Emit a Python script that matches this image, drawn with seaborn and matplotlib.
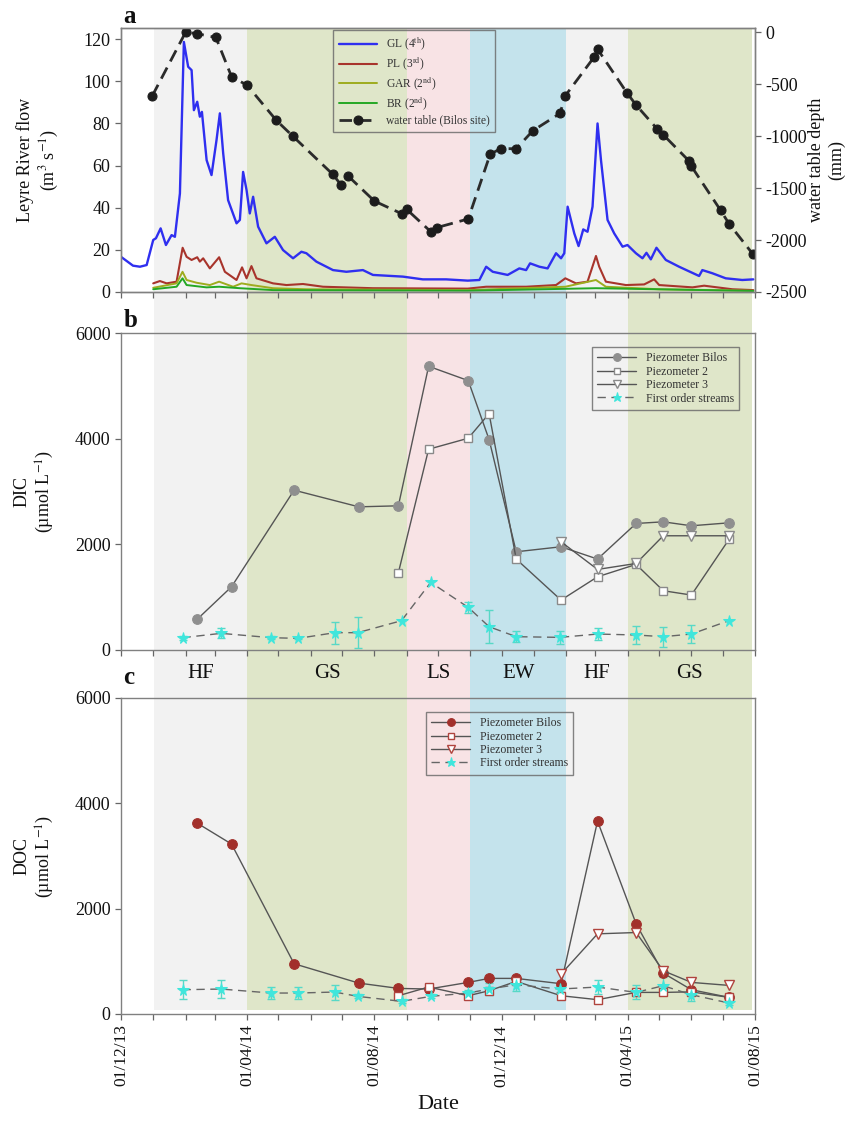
import numpy as np
import pandas as pd
import matplotlib
matplotlib.use("Agg")
import matplotlib.pyplot as plt
import matplotlib.dates as mdates
from matplotlib.transforms import blended_transform_factory
import seaborn as sns

# ---------------- DATA ----------------
START = "2013-12-01"
X_START, X_END = "2013-12-01", "2015-08-01"

# Seasons (background bands)
season_names = ["HF", "GS", "LS", "EW", "HF", "GS"]
season_start = ["2014-01-02", "2014-04-01", "2014-09-01", "2014-11-01", "2015-02-01", "2015-04-01"]
season_end = ["2014-04-01", "2014-09-01", "2014-11-01", "2015-02-01", "2015-04-01", "2015-07-29"]
season_colors = ["#f2f2f2", "#dfe6c9", "#f8e3e5", "#c4e3ec", "#f2f2f2", "#dfe6c9"]

# Leyre River flow (m3 s-1), days since START
gl_day = [0, 11.5, 18.2, 24.6, 30.9, 33.5, 38, 43.1, 48.5, 51.7, 56.5, 60.3, 64.4, 67.7, 69.9,
          73.1, 75.6, 77.6, 82.1, 86.8, 91.6, 94.8, 98, 102.7, 110.8, 114, 117.1, 120.4, 123.5,
          126.7, 131.5, 139.5, 147.5, 155.4, 165, 173, 177.8, 187.4, 203.3, 216.1, 232, 241.6,
          270.3, 289.4, 311.8, 332.5, 343.7, 350.2, 356.5, 370.8, 382, 388.5, 392.3, 401.2, 409.1,
          417.2, 422, 425.1, 428.3, 434.7, 438.8, 443.3, 447.4, 452.2, 457, 460.3, 466.6, 473,
          481, 485.7, 493.8, 500.1, 503.9, 508.1, 513.5, 522.5, 535.2, 554.4, 557.5, 567.1,
          579.9, 595.8, 606.4]
gl_flow = [16.7, 12.5, 12, 12.8, 24.7, 25.5, 30.2, 22.3, 27, 26.2, 46.8, 118.7, 106.9, 105.3, 86.3,
           90.3, 83.2, 85.5, 62.6, 55.5, 72.1, 84.8, 65.8, 43.6, 32.6, 34.2, 57, 48.4, 37.3,
           45.2, 31, 23.1, 26.2, 19.9, 16, 19.1, 18.4, 14.4, 10.4, 9.6, 10.4, 8.1,
           7.3, 6, 6, 5.4, 5.7, 12, 9.6, 8.1, 11.2, 10.4, 13.6, 12, 11.2,
           18.4, 16, 18.4, 40.5, 27.8, 21.8, 29.7, 28.6, 40.5, 80, 62.6, 34.2, 27.8,
           21.5, 22.3, 18.4, 16, 18.6, 15.5, 21, 15.2, 12, 7.6, 10.4, 8.9,
           6.5, 5.7, 6]

pl_day = [30.9, 37.3, 43.8, 53.3, 59.1, 62.9, 67.7, 73.1, 75.6, 78.8, 85.2, 94.1, 99.6, 110.8,
          116.1, 120.4, 125.1, 129.9, 145.8, 158.7, 174.5, 193.7, 241.6, 332.5, 350.2, 388.5,
          417.2, 426.1, 436.3, 447.4, 455.5, 458.6, 465, 484.2, 501.7, 511.3, 516.1, 548,
          559.2, 567.1, 586.3, 606.4]
pl_flow = [4.1, 5.2, 4.1, 4.9, 21, 16.7, 15.2, 16.5, 14.4, 16, 11.2, 16.5, 9.6, 5.7,
           11.7, 6.5, 12.3, 6.5, 4.1, 3.3, 3.8, 2.5, 1.8, 1.6, 2.5, 2.5,
           3.3, 6.5, 4.1, 4.9, 17.1, 12, 4.9, 3.3, 3.6, 6, 3.3, 2.2,
           3, 2.5, 1.3, 0.9]

gar_day = [30.9, 53.3, 59, 62.9, 72.5, 85.2, 94.1, 107.5, 115.6, 125.1, 145.8, 177.8, 332.5,
           426.1, 455.5, 465, 516, 606.4]
gar_flow = [2, 4.1, 9.6, 5.7, 4.4, 3.3, 4.9, 2.5, 4.1, 3.3, 1.8, 1.3, 0.9,
            2.5, 5.7, 2.5, 1.3, 0.6]

br_day = [30.9, 53.3, 59, 62.9, 82, 94.1, 114, 145.8, 332.5, 455.5, 606.4]
br_flow = [1.3, 2.5, 6.5, 3.3, 2.2, 2.5, 1.8, 0.9, 0.6, 1.8, 0.5]

# Water table depth at Bilos (mm)
wt_dates = ["2013-12-31", "2014-02-01", "2014-02-12", "2014-03-02", "2014-03-17", "2014-04-01",
            "2014-04-29", "2014-05-15", "2014-06-22", "2014-06-30", "2014-07-07", "2014-08-01",
            "2014-08-27", "2014-09-01", "2014-09-24", "2014-09-30", "2014-10-30", "2014-11-20",
            "2014-11-30", "2014-12-15", "2014-12-31", "2015-01-26", "2015-01-31", "2015-02-28",
            "2015-03-03", "2015-03-31", "2015-04-09", "2015-04-29", "2015-05-05", "2015-05-30",
            "2015-06-01", "2015-06-29", "2015-07-07", "2015-07-30"]
wt_depth = [-613, 0, -15, -51, -428, -511, -849, -1003, -1367, -1469, -1386, -1625,
            -1746, -1705, -1919, -1880, -1797, -1175, -1121, -1121, -948, -782, -613, -236,
            -163, -581, -702, -929, -987, -1242, -1290, -1714, -1842, -2136]

# Piezometer sampling dates
bilos_dates = ["2014-02-12", "2014-03-17", "2014-05-16", "2014-07-17", "2014-08-24", "2014-09-22",
               "2014-10-30", "2014-11-19", "2014-12-15", "2015-01-27", "2015-03-03", "2015-04-09",
               "2015-05-05", "2015-06-01", "2015-07-07"]
pz2_dates = bilos_dates[4:]
pz3_dates = bilos_dates[9:]
stream_dates = ["2014-01-29", "2014-03-07", "2014-04-24", "2014-05-20", "2014-06-24", "2014-07-16",
                "2014-08-27", "2014-09-24", "2014-10-30", "2014-11-19", "2014-12-15", "2015-01-26",
                "2015-03-03", "2015-04-09", "2015-05-05", "2015-06-01", "2015-07-07"]

# DIC (umol L-1)
dic_bilos = [580, 1197, 3025, 2710, 2729, 5370, 5099, 3983, 1859, 1954, 1721, 2395, 2426, 2351, 2407]
dic_pz2 = [1462, 3800, 4008, 4475, 1721, 945, 1386, 1620, 1122, 1040, 2092]
dic_pz3 = [2048, 1525, 1638, 2162, 2162, 2162]
dic_stream = [233, 315, 233, 220, 328, 328, 555, 1279, 807, 441, 252, 239, 302, 284, 252, 302, 555]
dic_stream_err = [40, 95, 30, 20, 211, 290, 0, 0, 110, 315, 107, 126, 120, 164, 189, 167, 0]

# DOC (umol L-1)
doc_bilos = [3625, 3227, 954, 587, 486, 474, 600, 676, 676, 575, 3663, 1712, 777, 461, 316]
doc_pz2 = [347, 512, 347, 442, 619, 347, 272, 410, 410, 420, 316]
doc_pz3 = [758, 1522, 1547, 821, 600, 543]
doc_stream = [461, 474, 398, 398, 417, 335, 240, 335, 398, 474, 556, 474, 512, 410, 537, 366, 208]
doc_stream_err = [180, 170, 110, 120, 142, 40, 40, 40, 60, 110, 110, 60, 136, 133, 170, 126, 40]

# ---------------- STYLE ----------------
sns.set_theme(style="ticks")
plt.rcParams["font.family"] = ["Liberation Serif", "DejaVu Serif"]
plt.rcParams.update({
    "mathtext.fontset": "stix",
    "axes.unicode_minus": False,
    "axes.edgecolor": "#808080",
    "axes.linewidth": 1.0,
    "xtick.color": "#666666",
    "ytick.color": "#666666",
    "xtick.labelcolor": "#111111",
    "ytick.labelcolor": "#111111",
    "text.color": "#111111",
    "axes.labelcolor": "#111111",
})


def dnum(strs):
    return mdates.date2num(pd.to_datetime(pd.Series(strs)).to_numpy())


def daynum(days):
    return mdates.date2num((pd.Timestamp(START) + pd.to_timedelta(np.asarray(days, float), unit="D")).to_numpy())


XMIN, XMAX = dnum([X_START])[0], dnum([X_END])[0]

FIG_W, FIG_H = 863, 1136
L_PX, R_PX = 121, 755


def box(top_px, bottom_px):
    return [L_PX / FIG_W, 1 - bottom_px / FIG_H, (R_PX - L_PX) / FIG_W, (bottom_px - top_px) / FIG_H]


fig = plt.figure(figsize=(8.63, 11.36), dpi=100)
ax_bg = fig.add_axes(box(28, 1010))
ax_a = fig.add_axes(box(28, 292))
ax_b = fig.add_axes(box(333, 650))
ax_c = fig.add_axes(box(698, 1014))

# background season bands
ax_bg.set_axis_off()
ax_bg.set_xlim(XMIN, XMAX)
ax_bg.set_ylim(0, 1)
s_num, e_num = dnum(season_start), dnum(season_end)
btr = blended_transform_factory(ax_bg.transData, ax_bg.transAxes)
for name, s, e, c in zip(season_names, s_num, e_num, season_colors):
    ax_bg.axvspan(s, e, color=c, lw=0, zorder=0)
    ax_bg.text((s + e) / 2, (1010 - 674) / 982, name, transform=btr, ha="center", va="center",
               fontsize=15, color="#111111")

common = dict(estimator=None, errorbar=None, sort=False, legend=False)

# ---------------- PANEL A ----------------
ax_a.patch.set_alpha(0)
sns.lineplot(x=daynum(gl_day), y=gl_flow, ax=ax_a, color="#2f2ff0", linewidth=1.7,
             label=r"GL (4$^{\mathrm{th}}$)", **common)
sns.lineplot(x=daynum(pl_day), y=pl_flow, ax=ax_a, color="#a8342c", linewidth=1.5,
             label=r"PL (3$^{\mathrm{rd}}$)", **common)
sns.lineplot(x=daynum(gar_day), y=gar_flow, ax=ax_a, color="#9eac1e", linewidth=1.4,
             label=r"GAR (2$^{\mathrm{nd}}$)", **common)
sns.lineplot(x=daynum(br_day), y=br_flow, ax=ax_a, color="#24a824", linewidth=1.4,
             label=r"BR (2$^{\mathrm{nd}}$)", **common)
ax_a.set_ylim(0, 125.3)
ax_a.set_yticks(np.arange(0, 121, 20))

ax_w = ax_a.twinx()
sns.lineplot(x=dnum(wt_dates), y=wt_depth, ax=ax_w, color="#2b2b2b", linewidth=2.0,
             linestyle=(0, (4.5, 2.5)), marker="o", markersize=6.5,
             markerfacecolor="#1c1c1c", markeredgecolor="#1c1c1c",
             label="water table (Bilos site)", **common)
ax_w.set_ylim(-2500, 40)
ax_w.set_yticks(np.arange(-2500, 1, 500))

h1, l1 = ax_a.get_legend_handles_labels()
h2, l2 = ax_w.get_legend_handles_labels()
leg = ax_w.legend(h1 + h2, l1 + l2, loc="upper left", bbox_to_anchor=(0.334, 0.993),
                  fontsize=8.3, frameon=True, fancybox=False, facecolor="none",
                  edgecolor="#666666", handlelength=3.3, labelspacing=0.22,
                  borderpad=0.5, borderaxespad=0, labelcolor="#333333")
leg.get_frame().set_linewidth(1.0)

ax_a.set_ylabel("Leyre River flow\n(m$^{3}$ s$^{-1}$)", fontsize=13, multialignment="center")
ax_a.yaxis.set_label_coords(-0.095, 0.5)
ax_w.set_ylabel("water table depth\n(mm)", fontsize=13, multialignment="center")
ax_w.yaxis.set_label_coords(1.084, 0.5)
ax_a.text(0.004, 1.019, "a", transform=ax_a.transAxes, fontsize=18, fontweight="bold",
          ha="left", va="baseline")


# ---------------- PANELS B & C ----------------
def chem_panel(ax, bilos, pz2, pz3, stream, err, main_color, open_color, label, letter, letter_y, leg_anchor, leg_loc):
    ax.patch.set_alpha(0)
    sx = dnum(stream_dates)
    err = np.asarray(err, float)
    m = err > 0
    ax.errorbar(sx[m], np.asarray(stream)[m], yerr=err[m], fmt="none", ecolor="#58d8c6",
                elinewidth=1.0, capsize=3, capthick=1.0, zorder=2)
    sns.lineplot(x=dnum(bilos_dates), y=bilos, ax=ax, color="#555555", linewidth=1.0,
                 marker="o", markersize=7, markerfacecolor=main_color, markeredgecolor=main_color,
                 label="Piezometer Bilos", **common)
    sns.lineplot(x=dnum(pz2_dates), y=pz2, ax=ax, color="#555555", linewidth=1.0,
                 marker="s", markersize=6, markerfacecolor="white", markeredgecolor=open_color,
                 markeredgewidth=1.0, label="Piezometer 2", **common)
    sns.lineplot(x=dnum(pz3_dates), y=pz3, ax=ax, color="#555555", linewidth=1.0,
                 marker="v", markersize=7, markerfacecolor="white", markeredgecolor=open_color,
                 markeredgewidth=1.0, label="Piezometer 3", **common)
    sns.lineplot(x=sx, y=stream, ax=ax, color="#666666", linewidth=1.0,
                 linestyle=(0, (6, 4)), marker="*", markersize=8.5,
                 markerfacecolor="#3fe6dc", markeredgecolor="#3fe6dc",
                 label="First order streams", **common)
    ax.set_ylim(0, 6000)
    ax.set_yticks([0, 2000, 4000, 6000])
    lg = ax.legend(loc=leg_loc, bbox_to_anchor=leg_anchor, fontsize=8.5, frameon=True,
                   fancybox=False, facecolor="none", edgecolor="#666666", handlelength=3.3,
                   labelspacing=0.12, borderpad=0.45, borderaxespad=0, markerscale=0.8,
                   labelcolor="#333333")
    lg.get_frame().set_linewidth(1.0)
    ax.set_ylabel(label + "\n(µmol L$^{-1}$)", fontsize=13, multialignment="center")
    ax.yaxis.set_label_coords(-0.1025, 0.5)
    ax.text(0.004, letter_y, letter, transform=ax.transAxes, fontsize=18, fontweight="bold",
            ha="left", va="baseline")


chem_panel(ax_b, dic_bilos, dic_pz2, dic_pz3, dic_stream, dic_stream_err, "#8f8f8f", "#8a8a8a",
           "DIC", "b", 1.019, (0.975, 0.956), "upper right")
chem_panel(ax_c, doc_bilos, doc_pz2, doc_pz3, doc_stream, doc_stream_err, "#a2302b", "#b0443e",
           "DOC", "c", 1.044, (0.481, 0.956), "upper left")

# ---------------- AXES FORMATTING ----------------
for ax in [ax_a, ax_b, ax_c]:
    ax.set_xlim(XMIN, XMAX)
    ax.xaxis.set_major_locator(mdates.MonthLocator(bymonth=[4, 8, 12], bymonthday=1))
    ax.xaxis.set_minor_locator(mdates.MonthLocator(bymonthday=1))
    ax.xaxis.set_major_formatter(mdates.DateFormatter("%d/%m/%y"))
    ax.tick_params(axis="both", which="both", direction="out", length=4, width=0.9, labelsize=13)
    ax.set_xlabel("")
    for sp in ax.spines.values():
        sp.set_visible(True)
        sp.set_color("#808080")
        sp.set_linewidth(1.0)
for sp in ax_w.spines.values():
    sp.set_color("#808080")
ax_w.tick_params(axis="y", direction="out", length=4, width=0.9, labelsize=13)

ax_a.tick_params(axis="x", labelbottom=False)
ax_b.tick_params(axis="x", labelbottom=False)
ax_c.tick_params(axis="x", which="major", labelsize=12.5, labelrotation=90)
ax_c.set_xlabel("Date", fontsize=16, labelpad=6)

fig.savefig("out.png", dpi=100)
